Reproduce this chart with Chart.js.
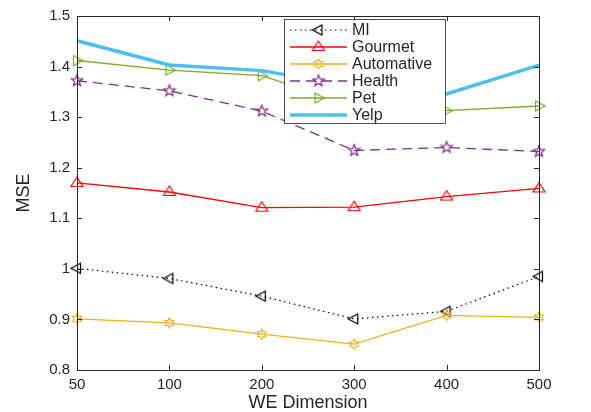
<!DOCTYPE html>
<html>
<head>
<meta charset="utf-8">
<script src="https://cdn.jsdelivr.net/npm/chart.js@4.4.0/dist/chart.umd.min.js"></script>
<style>
  html, body { margin: 0; padding: 0; background: #fff; }
</style>
</head>
<body>
<canvas id="chart" width="591" height="412"></canvas>
<script>
const dimensions = ['50', '100', '200', '300', '400', '500'];
const mi         = [1.001, 0.981, 0.946, 0.901, 0.916, 0.985];
const gourmet    = [1.170, 1.152, 1.121, 1.122, 1.143, 1.159];
const automotive = [0.901, 0.893, 0.871, 0.851, 0.908, 0.904];
const health     = [1.372, 1.352, 1.312, 1.234, 1.240, 1.232];
const pet        = [1.412, 1.393, 1.382, 1.322, 1.313, 1.322];
const yelp       = [1.451, 1.403, 1.392, 1.360, 1.346, 1.403];

const FONT = '"Liberation Sans", Arial, sans-serif';
const INK = '#262626';

// hollow matlab-like markers drawn on little canvases
function marker(color, draw) {
  const c = document.createElement('canvas');
  c.width = 18; c.height = 18;
  const g = c.getContext('2d');
  g.strokeStyle = color;
  g.lineWidth = 1.2;
  g.beginPath();
  draw(g, 9, 9);
  g.closePath();
  g.stroke();
  return c;
}

function triLeft(g, x, y)  { g.moveTo(x - 6, y); g.lineTo(x + 3.5, y - 5); g.lineTo(x + 3.5, y + 5); }
function triRight(g, x, y) { g.moveTo(x + 6, y); g.lineTo(x - 3.5, y - 5); g.lineTo(x - 3.5, y + 5); }
function triUp(g, x, y)    { g.moveTo(x, y - 6); g.lineTo(x + 6, y + 3.5); g.lineTo(x - 6, y + 3.5); }

function starShape(points, outer, inner) {
  return (g, x, y) => {
    for (let i = 0; i < points * 2; i++) {
      const r = i % 2 ? inner : outer;
      const a = -Math.PI / 2 + i * Math.PI / points;
      const px = x + r * Math.cos(a), py = y + r * Math.sin(a);
      if (i === 0) g.moveTo(px, py); else g.lineTo(px, py);
    }
  };
}

const series = [
  { label: 'MI',         data: mi,         color: '#000000', dash: [1.5, 3.5], width: 1.2, mark: marker('#000000', triLeft) },
  { label: 'Gourmet',    data: gourmet,    color: '#FF0000', dash: [],         width: 1.3, mark: marker('#FF0000', triUp) },
  { label: 'Automative', data: automotive, color: '#EDB120', dash: [],         width: 1.3, mark: marker('#EDB120', starShape(6, 5, 2.9)) },
  { label: 'Health',     data: health,     color: '#7E2F8E', dash: [10, 6],    width: 1.3, mark: marker('#7E2F8E', starShape(5, 6, 2.5)) },
  { label: 'Pet',        data: pet,        color: '#77AC30', dash: [],         width: 1.3, mark: marker('#77AC30', triRight) },
  { label: 'Yelp',       data: yelp,       color: '#4DBEEE', dash: [],         width: 3.5, mark: null }
];

const frame = {
  id: 'frame',
  afterDraw(chart) {
    const { ctx, chartArea: a, scales } = chart;
    ctx.save();
    // axes box
    ctx.strokeStyle = INK;
    ctx.lineWidth = 1;
    ctx.strokeRect(Math.round(a.left) + 0.5, Math.round(a.top) + 0.5,
                   Math.round(a.right - a.left), Math.round(a.bottom - a.top));
    // inward ticks on all four sides
    ctx.beginPath();
    dimensions.forEach((d, i) => {
      const x = Math.round(scales.x.getPixelForValue(i)) + 0.5;
      ctx.moveTo(x, a.bottom); ctx.lineTo(x, a.bottom - 5);
      ctx.moveTo(x, a.top); ctx.lineTo(x, a.top + 5);
    });
    scales.y.ticks.forEach(t => {
      const y = Math.round(scales.y.getPixelForValue(t.value)) + 0.5;
      ctx.moveTo(a.left, y); ctx.lineTo(a.left + 5, y);
      ctx.moveTo(a.right, y); ctx.lineTo(a.right - 5, y);
    });
    ctx.stroke();

    // legend box
    const bx = 284.5, by = 19.5, bw = 161, bh = 104;
    ctx.fillStyle = '#fff';
    ctx.fillRect(bx, by, bw, bh);
    ctx.lineWidth = 0.8;
    ctx.strokeRect(bx, by, bw, bh);
    ctx.font = '16px ' + FONT;
    ctx.textBaseline = 'middle';
    series.forEach((s, i) => {
      const y = 30 + i * 17;
      ctx.strokeStyle = s.color;
      ctx.lineWidth = s.width;
      ctx.setLineDash(s.dash);
      ctx.beginPath();
      ctx.moveTo(290, y); ctx.lineTo(347, y);
      ctx.stroke();
      ctx.setLineDash([]);
      if (s.mark) ctx.drawImage(s.mark, 318.5 - 9, y - 9);
      ctx.fillStyle = INK;
      ctx.fillText(s.label, 352, y + 1);
    });
    ctx.restore();
  }
};

new Chart(document.getElementById('chart'), {
  type: 'line',
  data: {
    labels: dimensions,
    datasets: series.map((s, i) => ({
      label: s.label,
      data: s.data,
      borderColor: s.color,
      backgroundColor: s.color,
      borderWidth: s.width,
      borderDash: s.dash,
      pointStyle: s.mark || 'circle',
      pointRadius: s.mark ? 5 : 0,
      pointHoverRadius: 5,
      tension: 0,
      fill: false,
      clip: false,
      order: series.length - i
    }))
  },
  plugins: [frame],
  options: {
    responsive: false,
    animation: false,
    layout: { padding: { left: 0, right: 52, top: 15, bottom: 0 } },
    plugins: {
      legend: { display: false },
      tooltip: { enabled: false }
    },
    scales: {
      x: {
        type: 'category',
        offset: false,
        grid: { display: false, drawTicks: false },
        border: { display: false },
        ticks: { color: INK, font: { family: FONT, size: 15 }, padding: 6, maxRotation: 0, autoSkip: false },
        title: { display: true, text: 'WE Dimension', color: INK,
                 font: { family: FONT, size: 18, lineHeight: 1 }, padding: { top: 0, bottom: 0 } },
        afterFit: s => { s.height = 42; }
      },
      y: {
        min: 0.8,
        max: 1.5,
        grid: { display: false, drawTicks: false },
        border: { display: false },
        ticks: { stepSize: 0.1, color: INK, font: { family: FONT, size: 15 }, padding: 7,
                 callback: v => String(+v.toFixed(1)) },
        title: { display: true, text: 'MSE', color: INK,
                 font: { family: FONT, size: 18, lineHeight: 1 }, padding: { top: 15, bottom: 0 } },
        afterFit: s => { s.width = 77; }
      }
    }
  }
});
</script>
</body>
</html>
